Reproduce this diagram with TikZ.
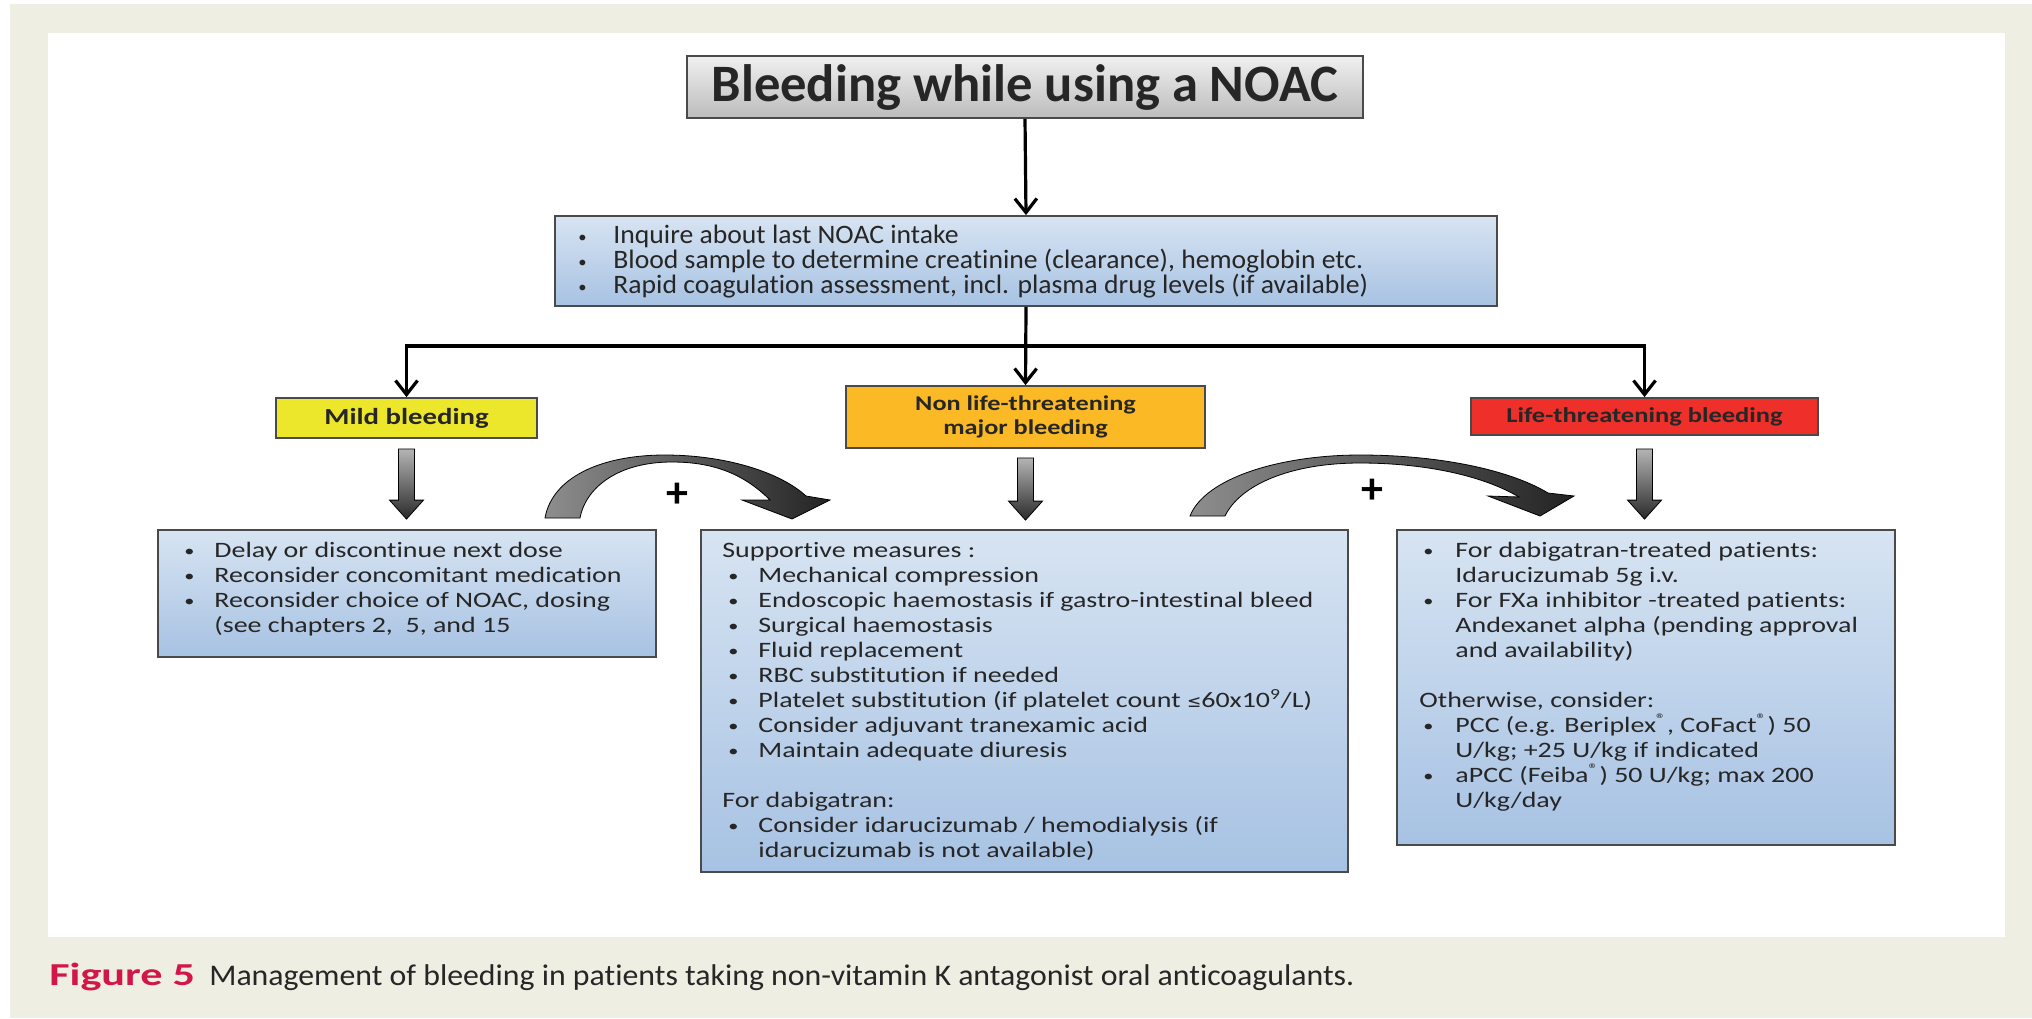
\documentclass[tikz,border=0pt]{standalone}
\usepackage{fontspec}
\setmainfont[Ligatures=NoCommon]{Carlito}
\newfontfamily\topfont[FakeStretch=1.04,Ligatures=NoCommon]{Carlito}
\newfontfamily\boxfont[FakeStretch=1.27,Ligatures=NoCommon]{Carlito}
\newfontfamily\catfont[FakeStretch=1.25,Ligatures=NoCommon]{Carlito}
\newfontfamily\capfont[FakeStretch=1.06,Ligatures=NoCommon]{Carlito}
\newfontfamily\figfont[FakeStretch=1.38,Ligatures=NoCommon]{Carlito}
\newfontfamily\symfont{DejaVu Sans}
\usetikzlibrary{arrows.meta,calc}
\definecolor{beige}{HTML}{EFEEE3}
\definecolor{titletop}{HTML}{F0F0F0}
\definecolor{titlebot}{HTML}{BCBCBC}
\definecolor{bluetop}{HTML}{D7E4F2}
\definecolor{bluebot}{HTML}{A7C2E3}
\definecolor{mildc}{HTML}{EDE72C}
\definecolor{majorc}{HTML}{FBBA25}
\definecolor{lifec}{HTML}{EE2F2A}
\definecolor{edgec}{HTML}{4A4A4A}
\definecolor{captionred}{HTML}{D2164A}
\definecolor{txt}{HTML}{262626}
\definecolor{gatop}{HTML}{B4B4B4}
\definecolor{gabot}{HTML}{2A2A2A}
\definecolor{catop}{HTML}{8E8E8E}
\definecolor{cabot}{HTML}{232323}
\newcommand\tightlines{\lineskiplimit=-100pt\relax}
\newcommand\bl[1]{\makebox[#1][l]{\raisebox{0.5pt}{\fontsize{8}{8}\selectfont\textbullet}}}
\newcommand\garrow[2]{%
  \path[shade, top color=gatop, bottom color=gabot, draw=black, line width=0.4pt]
    let \p1=#1, \p2=#2 in
    (\x1-4pt,\y1) -- (\x1+4pt,\y1) -- (\x1+4pt,\y2+9.5pt) -- (\x1+8.5pt,\y2+9.5pt)
    -- (\x1,\y2) -- (\x1-8.5pt,\y2+9.5pt) -- (\x1-4pt,\y2+9.5pt) -- cycle;}
\begin{document}
\begin{tikzpicture}[x=0.5pt,y=-0.5pt,
  titlebox/.style={draw=edgec, line width=1pt, top color=titletop, bottom color=titlebot,
    minimum width=338pt, minimum height=31pt, inner sep=0pt,
    font=\fontsize{26.3}{30}\selectfont\bfseries, text=txt},
  bluebox/.style={draw=edgec, line width=0.9pt, top color=bluetop, bottom color=bluebot, inner sep=0pt},
  catbox/.style={draw=edgec, line width=0.9pt, inner sep=0pt, align=center, text=txt},
  infotext/.style={anchor=north west, inner sep=0pt, align=left, text=txt,
    font=\topfont\fontsize{13.3}{12.3}\selectfont\tightlines},
  boxtext/.style={anchor=north west, inner sep=0pt, align=left, text=txt,
    font=\boxfont\fontsize{11}{12.5}\selectfont\tightlines},
  conn/.style={line width=1.6pt, -{Straight Barb[length=7pt,width=11pt,line width=1.6pt]}},
  curvearrow/.style={left color=catop, right color=cabot, draw=black, line width=0.4pt},
  plus/.style={font=\fontsize{22}{22}\selectfont\bfseries, text=black, inner sep=0pt}
]
\useasboundingbox (0,0) rectangle (2032,1018);
\fill[white] (0,0) rectangle (2032,1018);
\fill[beige] (10,4) rectangle (2032,1018);
\fill[white] (48,33) rectangle (2005,937);

% boxes
\node[titlebox] (title) at (1025,87) {Bleeding while using a NOAC};
\node[bluebox, minimum width=471pt, minimum height=45pt] (info) at (1026,261) {};
\node[catbox, fill=mildc, minimum width=130.5pt, minimum height=20pt,
  font=\catfont\fontsize{11.5}{12.5}\selectfont\bfseries] (mild) at (406.5,418) {Mild bleeding};
\node[catbox, fill=majorc, minimum width=179.5pt, minimum height=31pt,
  font=\catfont\fontsize{10.5}{12.2}\selectfont\bfseries] (major) at (1025.5,417) {Non life-threatening\\major bleeding};
\node[catbox, fill=lifec, minimum width=173.5pt, minimum height=18.5pt,
  font=\catfont\fontsize{10.6}{12.5}\selectfont\bfseries] (life) at (1644.5,416.5) {Life-threatening bleeding};
\node[bluebox, minimum width=249pt, minimum height=63.5pt] (bl) at (407,593.5) {};
\node[bluebox, minimum width=323.5pt, minimum height=171pt] (bm) at (1024.5,701) {};
\node[bluebox, minimum width=249pt, minimum height=157.5pt] (br) at (1646,687.5) {};

% texts
\node[infotext] (infot) at (578,225) {\strut\bl{17.5pt}Inquire about last NOAC intake\\
\bl{17.5pt}Blood sample to determine creatinine (clearance), hemoglobin etc.\\
\bl{17.5pt}Rapid coagulation assessment, incl. plasma drug levels (if available)};

\node[boxtext] (blt) at (184,540) {\strut\bl{15pt}Delay or discontinue next dose\\
\bl{15pt}Reconsider concomitant medication\\
\bl{15pt}Reconsider choice of NOAC, dosing\\
\hspace*{15pt}(see chapters 2,\ \ 5, and 15};

\node[boxtext] (bmt) at (722,540) {\strut Supportive measures :\\
\hspace*{3pt}\bl{15pt}Mechanical compression\\
\hspace*{3pt}\bl{15pt}Endoscopic haemostasis if gastro-intestinal bleed\\
\hspace*{3pt}\bl{15pt}Surgical haemostasis\\
\hspace*{3pt}\bl{15pt}Fluid replacement\\
\hspace*{3pt}\bl{15pt}RBC substitution if needed\\
\hspace*{3pt}\bl{15pt}Platelet substitution (if platelet count {\symfont\fontsize{8.5}{12.5}\selectfont ≤}60x10\textsuperscript{9}/L)\\
\hspace*{3pt}\bl{15pt}Consider adjuvant tranexamic acid\\
\hspace*{3pt}\bl{15pt}Maintain adequate diuresis\\[12.5pt]
For dabigatran:\\
\hspace*{3pt}\bl{15pt}Consider idarucizumab / hemodialysis (if\\
\hspace*{18pt}idarucizumab is not available)};

\node[boxtext] (brt) at (1419,540) {\strut\hspace*{2pt}\bl{16pt}For dabigatran-treated patients:\\
\hspace*{18pt}Idarucizumab 5g i.v.\\
\hspace*{2pt}\bl{16pt}For FXa inhibitor -treated patients:\\
\hspace*{18pt}Andexanet alpha (pending approval\\
\hspace*{18pt}and availability)\\[12.5pt]
Otherwise, consider:\\
\hspace*{2pt}\bl{16pt}PCC (e.g. Beriplex\textsuperscript{®}, CoFact\textsuperscript{®}) 50\\
\hspace*{18pt}U/kg; +25 U/kg if indicated\\
\hspace*{2pt}\bl{16pt}aPCC (Feiba\textsuperscript{®}) 50 U/kg; max 200\\
\hspace*{18pt}U/kg/day};

% connectors
\coordinate (bj) at ($(info.south)+(0,39)$);
\draw[conn] (title.south) -- (info.north);
\draw[conn] (info.south) -- (major.north);
\draw[conn] (bj) -| (mild.north);
\draw[conn] (bj) -| (life.north);

% gray block arrows
\garrow{($(mild.south)+(0,10)$)}{($(bl.north)+(0,-10)$)}
\garrow{($(major.south)+(0,9)$)}{($(bm.north)+(0,-9)$)}
\garrow{($(life.south)+(0,13)$)}{($(br.north)+(0,-10)$)}

% curved arrows
\path[curvearrow] (545,518) .. controls (552,478) and (600,455) .. (665,455)
  .. controls (725,455) and (780,472) .. (806,496) -- (830,500) -- (792,519) -- (742,500) -- (770,500)
  .. controls (745,475) and (715,462) .. (672,462) .. controls (615,462) and (585,490) .. (580,518) -- cycle;
\path[curvearrow] (1190,516) .. controls (1205,478) and (1280,455) .. (1360,455)
  .. controls (1440,455) and (1510,470) .. (1548,493) -- (1574,496) -- (1540,516) -- (1488,496) -- (1519,497)
  .. controls (1480,474) and (1420,463) .. (1360,463) .. controls (1290,463) and (1240,485) .. (1225,516) -- cycle;
\node[plus] (plus1) at (677,495) {+};
\node[plus] (plus2) at (1372,491) {+};

% caption
\node[anchor=base west, inner sep=0pt, font=\capfont\fontsize{15}{17}\selectfont, text=txt] (cap) at (49,985)
  {\textcolor{captionred}{\figfont\fontsize{16}{17}\selectfont\bfseries Figure 5}\ \ Management of bleeding in patients taking non-vitamin K antagonist oral anticoagulants.};
\end{tikzpicture}
\end{document}
